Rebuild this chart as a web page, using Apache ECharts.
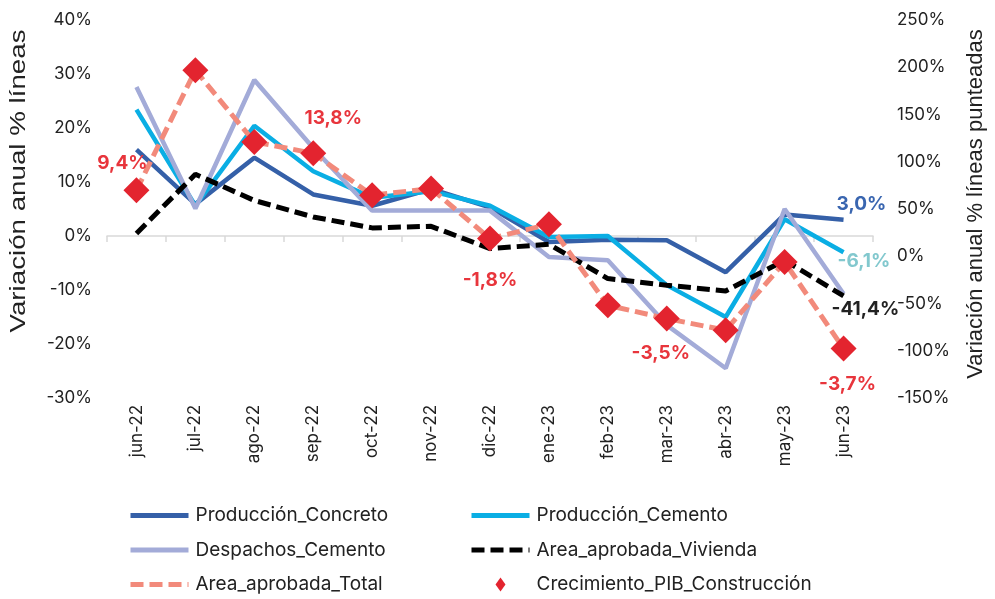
<!DOCTYPE html>
<html>
<head>
<meta charset="utf-8">
<script src="https://cdn.jsdelivr.net/npm/echarts@6/dist/echarts.min.js"></script>
<style>
  html, body { margin: 0; padding: 0; background: #fff; }
  #chart { width: 995px; height: 599px; }
</style>
</head>
<body>
<div id="chart"></div>
<script>
const categories = ['jun-22', 'jul-22', 'ago-22', 'sep-22', 'oct-22', 'nov-22', 'dic-22', 'ene-23', 'feb-23', 'mar-23', 'abr-23', 'may-23', 'jun-23']

// left axis (solid lines)
const produccionConcreto = [16.0, 5.9, 14.5, 7.7, 5.6, 8.7, 5.3, -1.1, -0.7, -0.8, -6.7, 4.0, 3.0]
const produccionCemento = [23.4, 5.6, 20.4, 12.0, 7.1, 8.3, 5.6, -0.2, 0.0, -9.1, -15.0, 3.1, -3.0]
const despachosCemento = [27.6, 5.1, 28.9, 16.3, 4.7, 4.7, 4.7, -3.9, -4.5, -16.5, -24.5, 5.0, -10.7]

// right axis (dashed lines)
const areaVivienda = [24, 86.8, 59, 41.6, 30, 31.7, 8.1, 12.7, -23.6, -30.7, -36.7, -4.2, -42]
const areaTotal = [69.8, 196.8, 121, 109, 64.6, 71.6, 18.7, 33.9, -51.9, -66, -78.3, -6, -97.7]
const pibConstruccion = [69.8, 196.8, 121, 109, 64.6, 71.6, 18.7, 33.9, -51.9, -66, -78.3, -6, -97.7]

const pibLabels = ['9,4%', '', '', '13,8%', '', '', '-1,8%', '', '', '-3,5%', '', '', '-3,7%']
const endLabels = { concreto: '3,0%', cemento: '-6,1%', vivienda: '-41,4%' }

const FONT = 'Inter'
const TITLE_FONT = 'Liberation Sans'
const chart = echarts.init(document.getElementById('chart'))

// where each PIB label sits relative to its diamond
const pibOffsets = { 0: [-14, -27], 3: [20, -35], 6: [0, 42], 9: [-6, 35], 12: [4, 36] }

const pibData = pibConstruccion.map((v, i) => {
  if (!pibLabels[i]) return v
  return {
    value: v,
    label: {
      show: true, formatter: pibLabels[i], position: 'inside', offset: pibOffsets[i],
      color: '#E8353C', fontFamily: FONT, fontWeight: 'bold', fontSize: 19
    }
  }
})

const lineSeries = (name, data, color, yIdx, dashed, endLabel) => ({
  name: name,
  type: 'line',
  yAxisIndex: yIdx,
  data: data,
  showSymbol: false,
  symbol: 'none',
  lineStyle: { color: color, width: dashed ? 5 : 4.5, type: dashed ? [13, 6] : 'solid' },
  itemStyle: { color: color },
  endLabel: endLabel ? {
    show: true, formatter: endLabel.text, distance: 0, offset: endLabel.offset,
    color: endLabel.color, fontFamily: FONT, fontWeight: 'bold', fontSize: 19
  } : { show: false },
  emphasis: { disabled: true }
})

const legendCommon = {
  top: 506, orient: 'vertical', itemGap: 15.5, padding: 0,
  itemWidth: 58, itemHeight: 14,
  itemStyle: { opacity: 0 },
  lineStyle: { width: 5 },
  textStyle: { fontFamily: FONT, fontSize: 19, color: '#222', padding: [0, 0, 0, 2] }
}

const option = {
  animation: false,
  textStyle: { fontFamily: FONT },
  grid: { left: 107, right: 121, top: 20, bottom: 201 },
  graphic: [
    {
      type: 'text',
      x: 19, y: 181,
      rotation: Math.PI / 2,
      scaleX: 1.26,
      style: {
        text: 'Variación anual % líneas',
        font: '22px "Liberation Sans"',
        fill: '#222',
        align: 'center',
        verticalAlign: 'middle'
      }
    }
  ],
  legend: [
    Object.assign({}, legendCommon, {
      left: 128,
      data: ['Producción_Concreto', 'Despachos_Cemento', 'Area_aprobada_Total']
    }),
    Object.assign({}, legendCommon, {
      left: 469,
      data: [
        'Producción_Cemento',
        'Area_aprobada_Vivienda',
        { name: 'Crecimiento_PIB_Construcción', icon: 'path://M5,0 L10,7 L5,14 L0,7 Z', itemStyle: { opacity: 1 } }
      ]
    })
  ],
  xAxis: [
    {
      type: 'category',
      data: categories,
      axisLine: { onZero: true, lineStyle: { color: '#D9D9D9', width: 1.5 } },
      axisTick: { show: true, length: 6, lineStyle: { color: '#D9D9D9', width: 1.5 } },
      axisLabel: { show: false }
    },
    {
      type: 'category',
      data: categories,
      position: 'bottom',
      axisLine: { show: false, onZero: false },
      axisTick: { show: false },
      axisLabel: { rotate: 90, margin: 7, color: '#222', fontFamily: FONT, fontSize: 17 }
    }
  ],
  yAxis: [
    {
      type: 'value',
      min: -30, max: 40, interval: 10,
      axisLine: { show: false },
      axisTick: { show: false },
      splitLine: { show: false },
      axisLabel: { formatter: '{value}%', margin: 15, color: '#222', fontFamily: FONT, fontSize: 17 }
    },
    {
      type: 'value',
      min: -150, max: 250, interval: 50,
      name: 'Variación anual % líneas punteadas',
      nameLocation: 'middle', nameGap: 92,
      nameTextStyle: { fontFamily: TITLE_FONT, fontSize: 22, color: '#222', padding: [0, 0, 0, 10] },
      axisLine: { show: false },
      axisTick: { show: false },
      splitLine: { show: false },
      axisLabel: { formatter: '{value}%', margin: 24, color: '#222', fontFamily: FONT, fontSize: 17 }
    }
  ],
  series: [
    lineSeries('Producción_Concreto', produccionConcreto, '#3560A8', 0, false,
      { text: endLabels.concreto, color: '#3A66B0', offset: [-7, -16] }),
    lineSeries('Producción_Cemento', produccionCemento, '#0AAEE4', 0, false,
      { text: endLabels.cemento, color: '#82C8CE', offset: [-6, 9] }),
    lineSeries('Despachos_Cemento', despachosCemento, '#A3ABD8', 0, false, null),
    lineSeries('Area_aprobada_Vivienda', areaVivienda, '#000', 1, true,
      { text: endLabels.vivienda, color: '#222', offset: [-12, 13] }),
    lineSeries('Area_aprobada_Total', areaTotal, '#F28A7B', 1, true, null),
    {
      name: 'Crecimiento_PIB_Construcción',
      type: 'scatter',
      yAxisIndex: 1,
      data: pibData,
      symbol: 'diamond',
      symbolSize: 26,
      itemStyle: { color: '#E3242F', opacity: 1 },
      emphasis: { disabled: true },
      z: 5
    }
  ]
}

chart.setOption(option)
window.addEventListener('resize', () => chart.resize())
</script>
</body>
</html>
